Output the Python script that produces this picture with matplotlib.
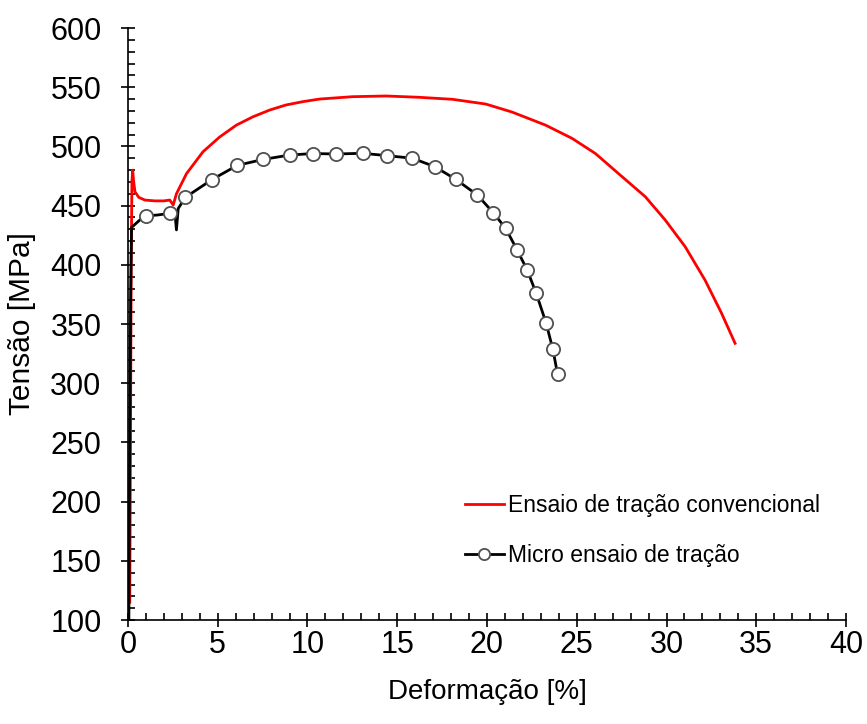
import matplotlib
matplotlib.use("Agg")
import matplotlib.pyplot as plt
from matplotlib.ticker import MultipleLocator

plt.rcParams["font.family"] = ["Liberation Sans", "DejaVu Sans"]

# Ensaio de tracao convencional (curva vermelha)
conv_def = [0.10, 0.14, 0.18, 0.22, 0.26, 0.32, 0.39, 0.60, 0.94, 1.50, 2.00, 2.33,
            2.52, 2.70, 3.26, 4.18, 5.11, 6.04, 6.96, 7.89, 8.80, 9.74, 10.67,
            12.50, 14.37, 16.20, 18.07, 19.93, 21.40, 23.26, 24.74, 26.04, 27.33,
            28.82, 29.93, 31.04, 32.15, 33.07, 33.82]
conv_ten = [115, 250, 400, 470, 480, 470, 461.7, 457, 454.7, 454, 454, 454.7,
            450.5, 460, 477, 495.5, 508, 518, 525, 530.7, 535, 537.8, 540,
            542, 542.6, 541.5, 539.8, 535.8, 529, 518, 506.8, 494, 477,
            457.5, 437.8, 415.3, 387, 359, 333.7]

# Micro ensaio de tracao (curva preta com marcadores)
micro_def = [0.05, 0.10, 0.15, 0.20, 0.67, 1.00, 1.60, 2.35, 2.61, 2.70, 2.80,
             3.20, 4.68, 6.09, 7.52, 9.00, 10.30, 11.60, 13.07, 14.43, 15.85,
             17.09, 18.26, 19.46, 20.35, 21.04, 21.68, 22.24, 22.74, 23.29,
             23.67, 23.93]
micro_ten = [100, 250, 375, 431.6, 438, 441.5, 442, 443.5, 445, 429.5, 447.6,
             457, 472, 484, 489, 492.7, 494, 493.6, 494.2, 492.2, 490,
             482.9, 472.2, 459, 444, 430.8, 412.5, 395.6, 376, 351,
             328.6, 307.8]
# indices dos pontos com marcador
micro_marcas = [5, 7] + list(range(11, 32))

fig = plt.figure(figsize=(8.67, 7.24), dpi=100)
ax = fig.add_axes([0.1476, 0.1436, 0.8282, 0.8177])

ax.plot(micro_def, micro_ten, color="black", lw=2.0,
        marker="o", markevery=micro_marcas, markersize=9.5,
        markerfacecolor="white", markeredgecolor="#505050", markeredgewidth=1.3,
        label="Micro ensaio de tração", zorder=3)
ax.plot(conv_def, conv_ten, color="#ff0000", lw=2.0,
        label="Ensaio de tração convencional", zorder=2)

ax.set_xlim(0, 40)
ax.set_ylim(100, 600)
ax.xaxis.set_major_locator(MultipleLocator(5))
ax.xaxis.set_minor_locator(MultipleLocator(1))
ax.yaxis.set_major_locator(MultipleLocator(50))
ax.yaxis.set_minor_locator(MultipleLocator(10))
ax.tick_params(which="major", direction="inout", length=10, width=1.2,
               labelsize=22)
ax.tick_params(axis="x", which="major", pad=2)
ax.tick_params(axis="y", which="major", pad=14)
ax.tick_params(which="minor", direction="in", length=5, width=1.2)
ax.spines["top"].set_visible(False)
ax.spines["right"].set_visible(False)
for s in ("left", "bottom"):
    ax.spines[s].set_linewidth(1.2)

ax.set_xlabel("Deformação [%]", fontsize=20, labelpad=14)
ax.set_ylabel("Tensão [MPa]", fontsize=21.5, labelpad=10)

h, l = ax.get_legend_handles_labels()
ax.legend(h[::-1], l[::-1], loc="upper left", bbox_to_anchor=(0.453, 0.233),
          frameon=False, fontsize=16.5, handlelength=1.7, handletextpad=0.2,
          labelspacing=1.2, markerscale=0.85, borderpad=0)

fig.savefig("out.png", dpi=100)
